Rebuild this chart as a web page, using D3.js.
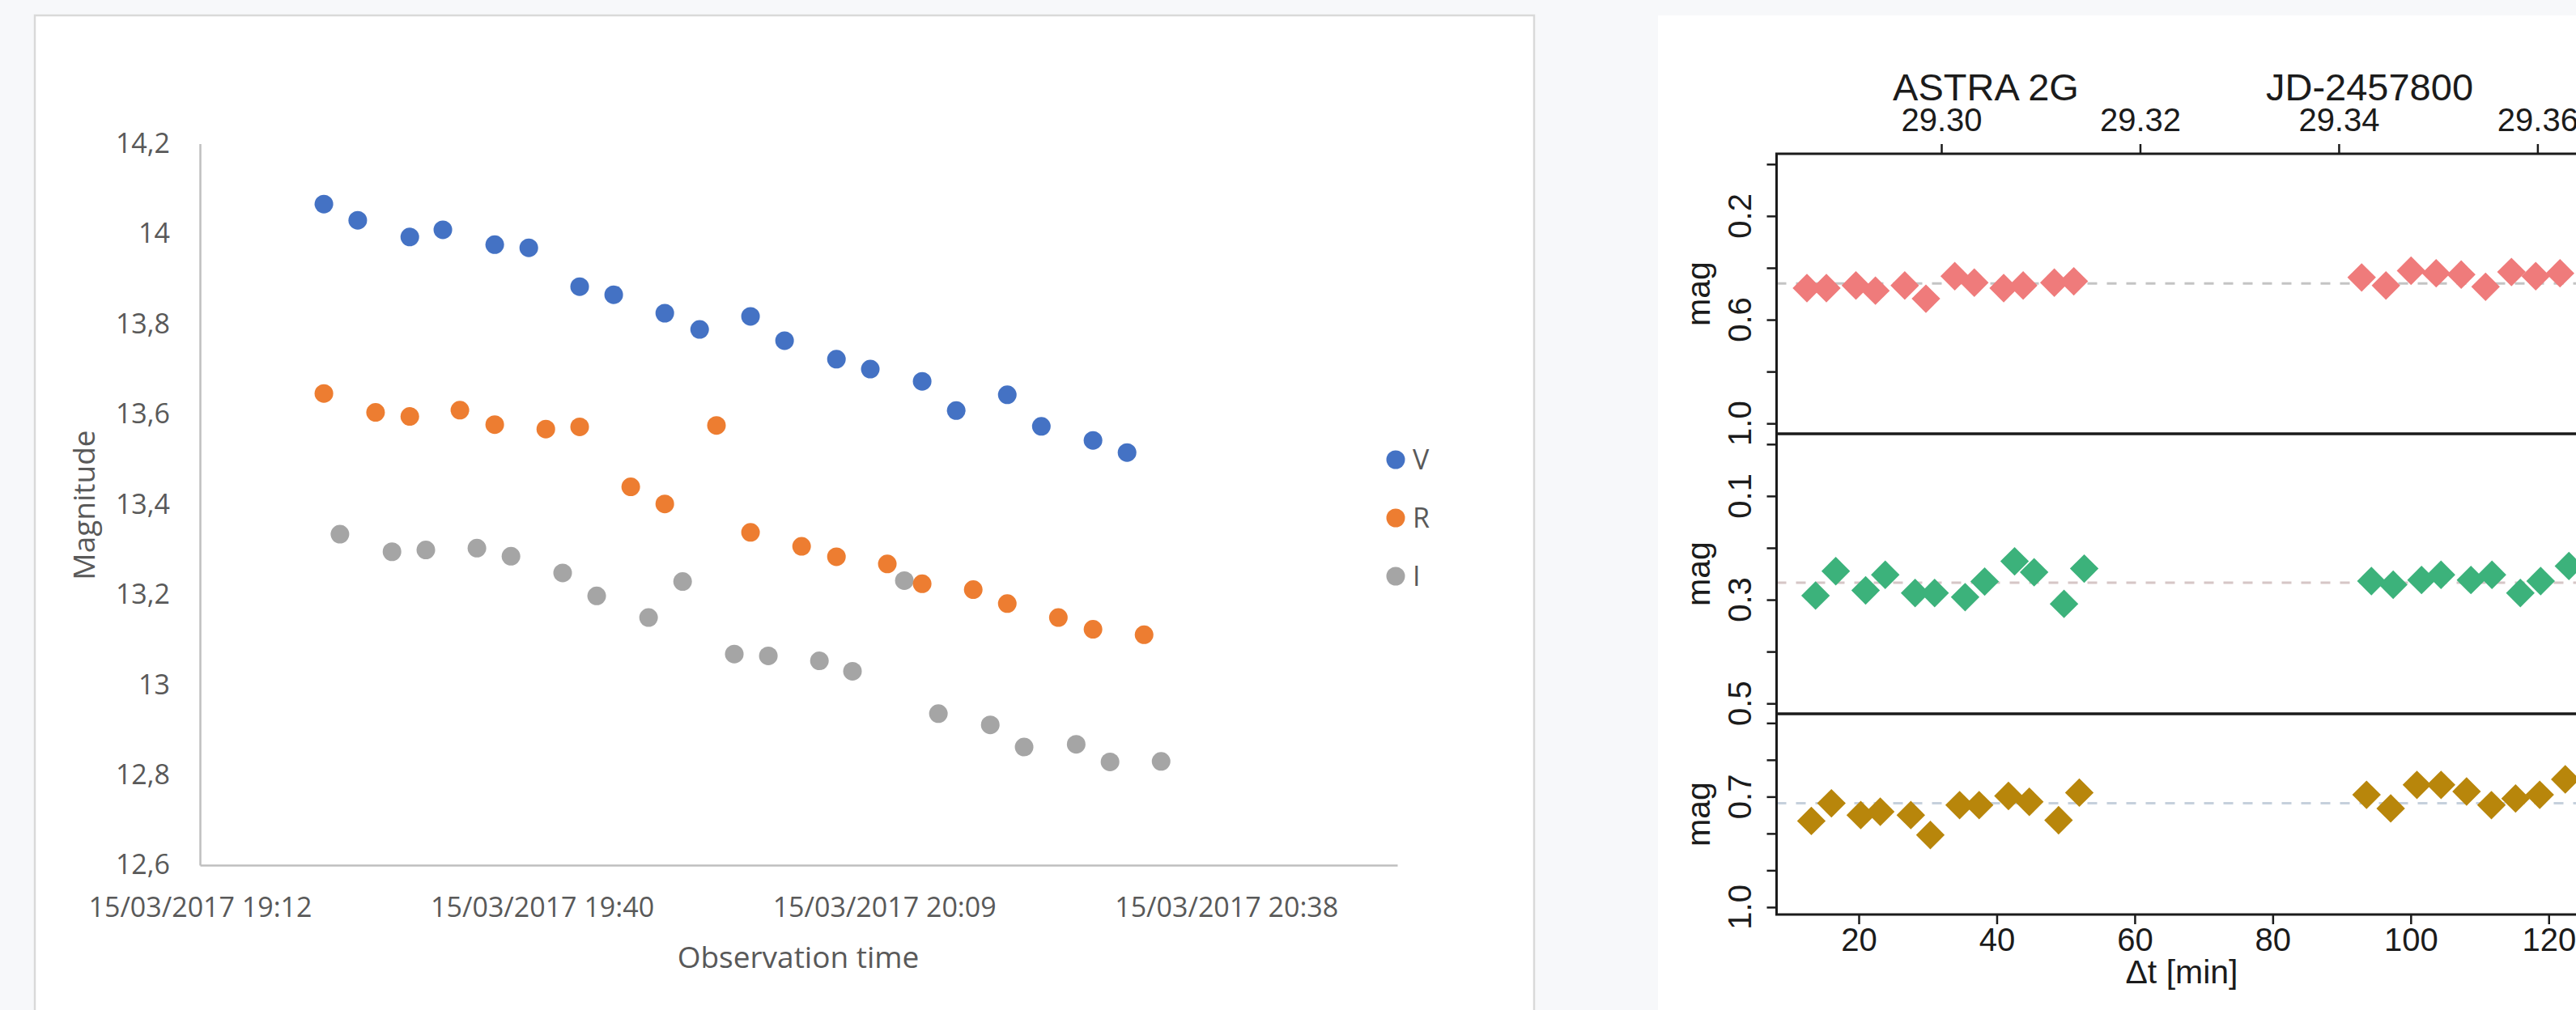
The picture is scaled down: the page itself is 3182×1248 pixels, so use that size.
<!DOCTYPE html>
<html>
<head>
<meta charset="utf-8">
<script src="https://cdn.jsdelivr.net/npm/d3@7"></script>
<style>
  html, body { margin: 0; padding: 0; background: #f7f8fa; }
  svg { display: block; }
</style>
</head>
<body>
<svg id="chart"></svg>
<script>
// ---- left chart: Excel scatter, magnitudes vs. observation time (15/03/2017) ----
var vTimes = ["19:22:26","19:25:17","19:29:40","19:32:27","19:36:49","19:39:41","19:43:58","19:46:50","19:51:08","19:54:04",
              "19:58:21","20:01:13","20:05:35","20:08:26","20:12:48","20:15:40","20:19:58","20:22:50","20:27:11","20:30:03"];
var vMag = [14.066,14.030,13.993,14.009,13.976,13.969,13.883,13.865,13.824,13.788,
            13.817,13.763,13.722,13.700,13.673,13.608,13.643,13.573,13.542,13.515];

var rTimes = ["19:22:26","19:26:47","19:29:40","19:33:53","19:36:49","19:41:07","19:43:58","19:48:16","19:51:08","19:55:29",
              "19:58:21","20:02:39","20:05:35","20:09:52","20:12:48","20:17:06","20:19:58","20:24:16","20:27:11","20:31:29"];
var rMag = [13.646,13.604,13.595,13.609,13.577,13.567,13.572,13.439,13.401,13.575,
            13.338,13.307,13.284,13.268,13.224,13.211,13.180,13.149,13.123,13.111];

var iTimes = ["19:23:47","19:28:10","19:31:01","19:35:19","19:38:11","19:42:32","19:45:24","19:49:46","19:52:38","19:56:59",
              "19:59:51","20:04:09","20:06:56","20:11:18","20:14:10","20:18:32","20:21:23","20:25:46","20:28:37","20:32:55"];
var iMag = [13.334,13.295,13.299,13.303,13.285,13.248,13.197,13.149,13.229,13.068,
            13.064,13.053,13.030,13.231,12.936,12.911,12.862,12.868,12.829,12.830];

var seriesNames = ["V", "R", "I"];
var seriesColors = ["#4472c4", "#ed7d31", "#a5a5a5"];
var magTicks = [12.6, 12.8, 13.0, 13.2, 13.4, 13.6, 13.8, 14.0, 14.2];

// ---- right chart: ASTRA 2G light curves, three bands ----
var p1Dt  = [12.49,15.31,19.59,22.42,26.67,29.74,33.92,36.75,41.01,43.83,48.35,51.17,92.89,96.41,100.05,103.69,107.32,110.85,114.60,118.12,121.64];
var p1Mag = [0.478,0.478,0.468,0.488,0.468,0.519,0.432,0.457,0.478,0.468,0.457,0.452,0.437,0.468,0.411,0.421,0.426,0.473,0.416,0.432,0.421];

var p2Dt  = [13.74,16.67,21.00,23.84,28.17,31.00,35.42,38.25,42.59,45.42,49.75,52.68,94.30,97.46,101.57,104.39,108.73,111.78,115.89,118.83,122.93];
var p2Mag = [0.292,0.245,0.282,0.252,0.287,0.287,0.295,0.265,0.226,0.247,0.308,0.240,0.264,0.271,0.262,0.252,0.262,0.252,0.287,0.264,0.235];

var p3Dt  = [13.13,16.04,20.29,23.12,27.55,30.38,34.62,37.45,41.70,44.72,48.96,51.97,93.60,97.10,100.90,104.40,108.10,111.70,115.20,118.70,122.40];
var p3Mag = [0.766,0.718,0.750,0.741,0.750,0.804,0.723,0.723,0.698,0.714,0.764,0.689,0.695,0.732,0.668,0.668,0.686,0.723,0.705,0.695,0.653];

var refMag = [0.46, 0.267, 0.718];
var dtTicks = [20, 40, 60, 80, 100, 120];
var jdTicks = [29.30, 29.32, 29.34, 29.36];

var W = 3182, H = 1248;
var svg = d3.select("#chart").attr("width", W).attr("height", H);
svg.append("rect").attr("width", W).attr("height", H).attr("fill", "#f7f8fa");

// =================== left panel ===================
var excelFont = "'Open Sans', 'Liberation Sans', sans-serif";
var excelText = "#595959";

svg.append("rect")
    .attr("x", 43).attr("y", 19).attr("width", 1852).attr("height", 1260)
    .attr("fill", "#fff").attr("stroke", "#d9d9d9").attr("stroke-width", 2.5);

var parseT = d3.timeParse("%d/%m/%Y %H:%M:%S");
var t0 = parseT("15/03/2017 19:12:00");
var step = 28.8 * 60000; // excel major unit 0.02 day

var x = d3.scaleTime()
    .domain([t0, new Date(+t0 + 3.5 * step)])
    .range([247, 1726]);
var y = d3.scaleLinear().domain([12.6, 14.2]).range([1069, 177.5]);

var commaFmt = d3.formatLocale({decimal: ",", thousands: ".", grouping: [3], currency: ["", ""]}).format("~g");

var gy = svg.append("g").attr("transform", "translate(247,0)")
    .call(d3.axisLeft(y).tickValues(magTicks).tickSize(0).tickPadding(37)
        .tickFormat(function (d) { return commaFmt(Math.round(d * 10) / 10); }));
var gx = svg.append("g").attr("transform", "translate(0,1069)")
    .call(d3.axisBottom(x).tickValues(d3.range(4).map(function (k) { return new Date(+t0 + k * step); }))
        .tickSize(0).tickFormat(d3.timeFormat("%d/%m/%Y %H:%M")));

[gy, gx].forEach(function (g) {
    g.select(".domain").attr("stroke", "#bfbfbf").attr("stroke-width", 2.5);
    g.selectAll("text").attr("fill", excelText).attr("font-family", excelFont).attr("font-size", 34);
});
gx.selectAll("text").attr("y", 64).attr("dy", 0);

svg.append("text")
    .attr("transform", "translate(117,624) rotate(-90)")
    .attr("text-anchor", "middle")
    .attr("font-family", excelFont).attr("font-size", 37).attr("fill", excelText)
    .text("Magnitude");
svg.append("text")
    .attr("x", 986).attr("y", 1196)
    .attr("text-anchor", "middle")
    .attr("font-family", excelFont).attr("font-size", 37).attr("fill", excelText)
    .text("Observation time");

var leftSeries = [
    {name: "V", times: vTimes, mags: vMag},
    {name: "R", times: rTimes, mags: rMag},
    {name: "I", times: iTimes, mags: iMag}
];
var colorOf = d3.scaleOrdinal().domain(seriesNames).range(seriesColors);

// draw I first so V/R stay on top
leftSeries.slice().reverse().forEach(function (s) {
    svg.append("g").selectAll("circle")
        .data(s.times.map(function (t, i) { return {t: parseT("15/03/2017 " + t), m: s.mags[i]}; }))
        .enter().append("circle")
        .attr("cx", function (d) { return x(d.t); })
        .attr("cy", function (d) { return y(d.m); })
        .attr("r", 11.5)
        .attr("fill", colorOf(s.name));
});

var legend = svg.append("g").selectAll("g")
    .data(seriesNames)
    .enter().append("g")
    .attr("transform", function (d, i) { return "translate(1724," + (568 + i * 72) + ")"; });
legend.append("circle").attr("r", 11.5).attr("fill", function (d) { return colorOf(d); });
legend.append("text")
    .attr("x", 21).attr("dy", "0.36em")
    .attr("font-family", excelFont).attr("font-size", 34).attr("fill", excelText)
    .text(function (d) { return d; });

// =================== right panel ===================
var rFont = "'Liberation Sans', Arial, sans-serif";
var ink = "#1b1b1b";

svg.append("rect")
    .attr("x", 2048).attr("y", 19).attr("width", 1200).attr("height", 1260)
    .attr("fill", "#fff");

var xDt = d3.scaleLinear().domain([8.09, 125.6]).range([2194.5, 3196]);
function jd(dt) { return 29.30 + (dt - 31.97) / 1440; }
var xJd = d3.scaleLinear().domain(xDt.domain().map(jd)).range(xDt.range());

var panels = [
    {dt: p1Dt, mag: p1Mag, domain: [-0.04, 1.04], top: 190, bottom: 536,
     ticks: [0, 0.2, 0.4, 0.6, 0.8, 1.0], labels: [0.2, 0.6, 1.0], color: "#ef7b7b", refColor: "#c4c4c4"},
    {dt: p2Dt, mag: p2Mag, domain: [-0.02, 0.52], top: 536, bottom: 882,
     ticks: [0, 0.1, 0.2, 0.3, 0.4, 0.5], labels: [0.1, 0.3, 0.5], color: "#3cb27b", refColor: "#d6c6c6"},
    {dt: p3Dt, mag: p3Mag, domain: [0.475, 1.02], top: 882, bottom: 1130,
     ticks: [0.5, 0.6, 0.7, 0.8, 0.9, 1.0], labels: [0.7, 1.0], color: "#b8860b", refColor: "#c6d0dc"}
];

var diamond = d3.symbol(d3.symbolSquare, 25 * 25);

panels.forEach(function (p, k) {
    var py = d3.scaleLinear().domain(p.domain).range([p.top, p.bottom]);
    var g = svg.append("g");

    g.append("line")
        .attr("x1", 2194.5).attr("x2", 3300)
        .attr("y1", py(refMag[k])).attr("y2", py(refMag[k]))
        .attr("stroke", p.refColor).attr("stroke-width", 3).attr("stroke-dasharray", "12,12");

    g.selectAll("path.pt")
        .data(p.dt.map(function (d, i) { return {dt: d, m: p.mag[i]}; }))
        .enter().append("path").attr("class", "pt")
        .attr("d", diamond)
        .attr("transform", function (d) { return "translate(" + xDt(d.dt) + "," + py(d.m) + ") rotate(45)"; })
        .attr("fill", p.color);

    g.append("rect")
        .attr("x", 2194.5).attr("y", p.top).attr("width", 1200).attr("height", p.bottom - p.top)
        .attr("fill", "none").attr("stroke", ink).attr("stroke-width", 3);

    var ya = g.append("g").attr("transform", "translate(2194.5,0)")
        .call(d3.axisLeft(py).tickValues(p.ticks).tickSize(12).tickFormat(""));
    ya.select(".domain").remove();
    ya.selectAll("line").attr("stroke", ink).attr("stroke-width", 2.5);

    g.selectAll("text.yl")
        .data(p.labels)
        .enter().append("text").attr("class", "yl")
        .attr("transform", function (d) { return "translate(2163," + py(d) + ") rotate(-90)"; })
        .attr("text-anchor", "middle")
        .attr("font-family", rFont).attr("font-size", 40).attr("fill", ink)
        .text(d3.format(".1f"));

    g.append("text")
        .attr("transform", "translate(2112," + ((p.top + p.bottom) / 2) + ") rotate(-90)")
        .attr("text-anchor", "middle")
        .attr("font-family", rFont).attr("font-size", 41).attr("fill", ink)
        .text("mag");
});

var topAxis = svg.append("g").attr("transform", "translate(0,190)")
    .call(d3.axisTop(xJd).tickValues(jdTicks).tickSize(12).tickPadding(16).tickFormat(d3.format(".2f")));
var botAxis = svg.append("g").attr("transform", "translate(0,1130)")
    .call(d3.axisBottom(xDt).tickValues(dtTicks).tickSize(12).tickPadding(10).tickFormat(d3.format("d")));
[topAxis, botAxis].forEach(function (g) {
    g.select(".domain").remove();
    g.selectAll("line").attr("stroke", ink).attr("stroke-width", 2.5);
    g.selectAll("text").attr("fill", ink).attr("font-family", rFont).attr("font-size", 40);
});
topAxis.selectAll("text").attr("y", -28).attr("dy", 0);
botAxis.selectAll("text").attr("y", 45).attr("dy", 0);

svg.append("text")
    .attr("x", 2453).attr("y", 124).attr("text-anchor", "middle")
    .attr("font-family", rFont).attr("font-size", 47).attr("fill", ink)
    .text("ASTRA 2G");
svg.append("text")
    .attr("x", 2927).attr("y", 124).attr("text-anchor", "middle")
    .attr("font-family", rFont).attr("font-size", 47).attr("fill", ink)
    .text("JD-2457800");
svg.append("text")
    .attr("x", 2695).attr("y", 1215).attr("text-anchor", "middle")
    .attr("font-family", rFont).attr("font-size", 41).attr("fill", ink)
    .text("Δt [min]");
</script>
</body>
</html>
